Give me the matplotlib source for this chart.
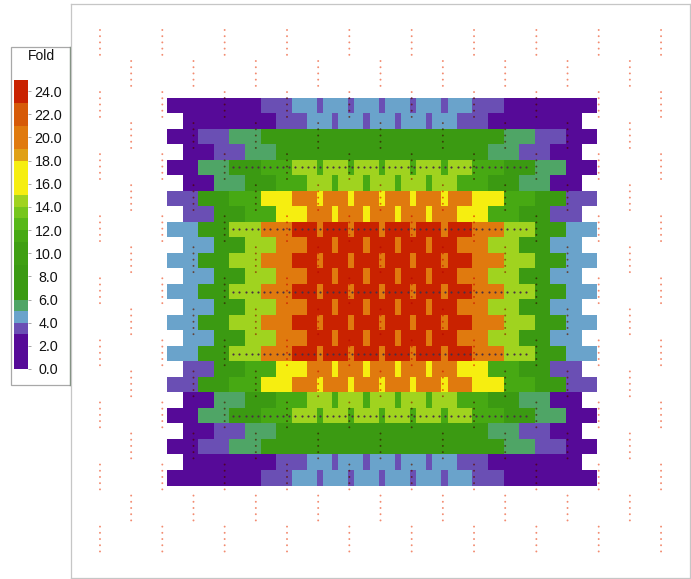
import numpy as np
import matplotlib
matplotlib.use("Agg")
import matplotlib.pyplot as plt
from matplotlib.colors import ListedColormap, to_rgb
from matplotlib.patches import Rectangle

plt.rcParams['font.family'] = ['Liberation Sans', 'DejaVu Sans']

W, H = 691, 579
nan = float('nan')

# ---- data ----------------------------------------------------------------
band_colors = (['#560a98'] * 3 + ['#6a4fb4', '#6aa3cb', '#4fa566'] +
               ['#3b9a12'] * 3 + ['#3f9f12'] * 2 + ['#47a913', '#58b818', '#76c61c',
                '#a0d31f'] + ['#f6ee10'] * 3 + ['#e0a015'] + ['#e07a0e'] * 2 +
               ['#d65a08'] * 2 + ['#c92200'] * 2)
tick_values = [0, 2, 4, 6, 8, 10, 12, 14, 16, 18, 20, 22, 24]
tick_labels = ['0.0', '2.0', '4.0', '6.0', '8.0', '10.0', '12.0', '14.0', '16.0',
               '18.0', '20.0', '22.0', '24.0']

# each well: wide part, then thin part on its right (fold values)
wide_0 = [1.5, 1.5, 1.5, 3.5, 4.5, 4.5, 4.5, 4.5, 4.5, 4.5, 3.5, 1.5, 1.5, 1.5]
thin_0 = [1.5, 1.5, 1.5, 3.5, 3.5, 3.5, 3.5, 3.5, 3.5, 3.5, 1.5, 1.5, 1.5, nan]
wide_1 = [1.5, 1.5, 1.5, 3.5, 4.5, 4.5, 4.5, 4.5, 4.5, 3.5, 1.5, 1.5, 1.5]
thin_1 = [1.5, 1.5, 1.5, 3.5, 3.5, 3.5, 3.5, 3.5, 3.5, 1.5, 1.5, 1.5, nan]
wide_2 = [1.5, 3.5, 5.5, 8.5, 8.5, 8.5, 8.5, 8.5, 8.5, 8.5, 8.5, 5.5, 3.5, 1.5]
thin_2 = [1.5, 3.5, 5.5, 8.5, 8.5, 8.5, 8.5, 8.5, 8.5, 8.5, 5.5, 3.5, 1.5, nan]
wide_3 = [1.5, 3.5, 5.5, 8.5, 8.5, 8.5, 8.5, 8.5, 8.5, 8.5, 5.5, 3.5, 1.5]
thin_3 = [1.5, 3.5, 5.5, 8.5, 8.5, 8.5, 8.5, 8.5, 8.5, 5.5, 3.5, 1.5, nan]
wide_4 = [1.5, 5.5, 8.5, 11.5, 14.5, 14.5, 14.5, 14.5, 14.5, 14.5, 11.5, 8.5, 5.5, 1.5]
thin_4 = [1.5, 5.5, 8.5, 11.5, 11.5, 11.5, 11.5, 11.5, 11.5, 11.5, 8.5, 5.5, 1.5, nan]
wide_5 = [1.5, 5.5, 8.5, 11.5, 14.5, 14.5, 14.5, 14.5, 14.5, 11.5, 8.5, 5.5, 1.5]
thin_5 = [1.5, 5.5, 8.5, 11.5, 11.5, 11.5, 11.5, 11.5, 11.5, 8.5, 5.5, 1.5, nan]
wide_6 = [3.5, 8.5, 11.5, 16.5, 20, 20, 20, 20, 20, 20, 16.5, 11.5, 8.5, 3.5]
thin_6 = [3.5, 8.5, 11.5, 16.5, 16.5, 16.5, 16.5, 16.5, 16.5, 16.5, 11.5, 8.5, 3.5, nan]
wide_7 = [3.5, 8.5, 11.5, 16.5, 20, 20, 20, 20, 20, 16.5, 11.5, 8.5, 3.5]
thin_7 = [3.5, 8.5, 11.5, 16.5, 16.5, 16.5, 16.5, 16.5, 16.5, 11.5, 8.5, 3.5, nan]
wide_8 = [4.5, 8.5, 14.5, 20, 24, 24, 24, 24, 24, 24, 20, 14.5, 8.5, 4.5]
thin_8 = [4.5, 8.5, 14.5, 20, 20, 20, 20, 20, 20, 20, 14.5, 8.5, 4.5, nan]
wide_9 = [4.5, 8.5, 14.5, 20, 24, 24, 24, 24, 24, 20, 14.5, 8.5, 4.5]
thin_9 = [4.5, 8.5, 14.5, 20, 20, 20, 20, 20, 20, 14.5, 8.5, 4.5, nan]

wide_rows = [wide_0, wide_1, wide_2, wide_3, wide_4, wide_5, wide_6, wide_7, wide_8,
             wide_9, wide_8, wide_9, wide_8, wide_9, wide_8, wide_9, wide_8, wide_7,
             wide_6, wide_5, wide_4, wide_3, wide_2, wide_1, wide_0]
thin_rows = [thin_0, thin_1, thin_2, thin_3, thin_4, thin_5, thin_6, thin_7, thin_8,
             thin_9, thin_8, thin_9, thin_8, thin_9, thin_8, thin_9, thin_8, thin_7,
             thin_6, thin_5, thin_4, thin_3, thin_2, thin_1, thin_0]

# probe spots: columns of dots (well units) and rows of dots
dot_cols_a = [-2.15, -0.15, 1.85, 3.85, 5.85, 7.85, 9.85, 11.85, 13.85, 15.85]
dot_rows_a = [-4.35, -0.35, 3.65, 7.65, 11.65, 15.65, 19.65, 23.65, 27.65]
dot_cols_b = [-1.15, 0.85, 2.85, 4.85, 6.85, 8.85, 10.85, 12.85, 14.85]
dot_rows_b = [-2.35, 1.65, 5.65, 9.65, 13.65, 17.65, 21.65, 25.65]
dot_steps = [0, 0.4, 0.8, 1.2, 1.6]
line_rows = [4.5, 8.5, 12.5, 16.5, 20.5]
line_x_start, line_x_step, line_x_count = 2.12, 0.2, 48

# ---- layout (pixels of the picture) --------------------------------------
FRAME = (70.5, 690.0, 3.5, 578.0)
X0, PERIOD = 167.0, 31.17
Y0, ROW_H = 97.5, 15.52
WIDE = 0.80

cmap = ListedColormap(band_colors)


def color_of(v):
    return cmap(int(np.clip(np.floor(v), 0, 24)))


def cell_value(x, y):
    r = int(np.floor(y))
    if r < 0 or r >= len(wide_rows):
        return None
    shift = 0.5 if r % 2 else 0.0
    k = int(np.floor(x - shift))
    if k < 0 or k >= len(wide_rows[r]):
        return None
    frac = x - shift - k
    v = wide_rows[r][k] if frac < WIDE else thin_rows[r][k]
    return None if np.isnan(v) else v


fig = plt.figure(figsize=(W / 100, H / 100), dpi=100, facecolor='white')


def px_axes(x0, x1, y0, y1, **kw):
    return fig.add_axes([x0 / W, 1 - y1 / H, (x1 - x0) / W, (y1 - y0) / H], **kw)


ax = px_axes(FRAME[0], FRAME[1], FRAME[2], FRAME[3])
ax.set_xlim((FRAME[0] - X0) / PERIOD, (FRAME[1] - X0) / PERIOD)
ax.set_ylim((FRAME[3] - Y0) / ROW_H, (FRAME[2] - Y0) / ROW_H)
ax.set_xticks([])
ax.set_yticks([])
for s in ax.spines.values():
    s.set_color('#c6c6c6')
    s.set_linewidth(0.9)

# wells
for r, (wide, thin) in enumerate(zip(wide_rows, thin_rows)):
    shift = 0.5 if r % 2 else 0.0
    for k, (a, b) in enumerate(zip(wide, thin)):
        ax.add_patch(Rectangle((k + shift, r), WIDE, 1, facecolor=color_of(a),
                               linewidth=0, antialiased=False))
        if not np.isnan(b):
            ax.add_patch(Rectangle((k + shift + WIDE, r), 1 - WIDE, 1, facecolor=color_of(b),
                                   linewidth=0, antialiased=False))

# vertical groups of orange spots, multiplied over what lies beneath
spot = np.array(to_rgb('#ee6a48'))
xs, ys, cs = [], [], []
for cols, rows in ((dot_cols_a, dot_rows_a), (dot_cols_b, dot_rows_b)):
    for cx in cols:
        for ry in rows:
            for st in dot_steps:
                yy = ry + st
                v = cell_value(cx, yy)
                if v is None:
                    c = tuple(0.78 * spot + 0.22)
                else:
                    c = tuple(spot * np.array(color_of(v)[:3]))
                xs.append(cx)
                ys.append(yy)
                cs.append(c)
ax.scatter(xs, ys, s=1.9, c=cs, marker='o', linewidths=0, zorder=3)

# horizontal rows of dark spots
lx = line_x_start + line_x_step * np.arange(line_x_count)
for ry in line_rows:
    ax.scatter(lx, np.full(lx.shape, ry), s=2.4, c='#4a3044', marker='o', linewidths=0, zorder=3)

# legend box (below the colour bar axes)
fig.add_artist(Rectangle((11 / W, 1 - 385 / H), 59.5 / W, 338 / H, transform=fig.transFigure,
                         facecolor='white', edgecolor='#a8a8a8', linewidth=0.9, zorder=-1))
fig.add_artist(plt.Line2D([70.3 / W, 70.3 / W], [1 - 385 / H, 1 - 47 / H], color='#7c8c7c',
                          linewidth=1.0, zorder=-1))
fig.text(41 / W, 1 - 55.5 / H, 'Fold', ha='center', va='center', fontsize=10, color='#111111')

cax = px_axes(14, 27.5, 79.5, 369)
level_edges = np.arange(len(band_colors) + 1)
cax.pcolormesh([0, 1], level_edges, np.arange(len(band_colors)).reshape(-1, 1), cmap=cmap,
               vmin=-0.5, vmax=len(band_colors) - 0.5)
cax.set_xlim(0, 1)
cax.set_ylim(0, len(band_colors))
cax.set_xticks([])
cax.yaxis.tick_right()
cax.set_yticks(tick_values)
cax.set_yticklabels(tick_labels, fontsize=10.3, color='#111111', ha='center')
cax.tick_params(axis='y', length=2, width=0.6, color='#999999', pad=13)
for s in cax.spines.values():
    s.set_visible(False)

fig.savefig('out.png', dpi=100)
